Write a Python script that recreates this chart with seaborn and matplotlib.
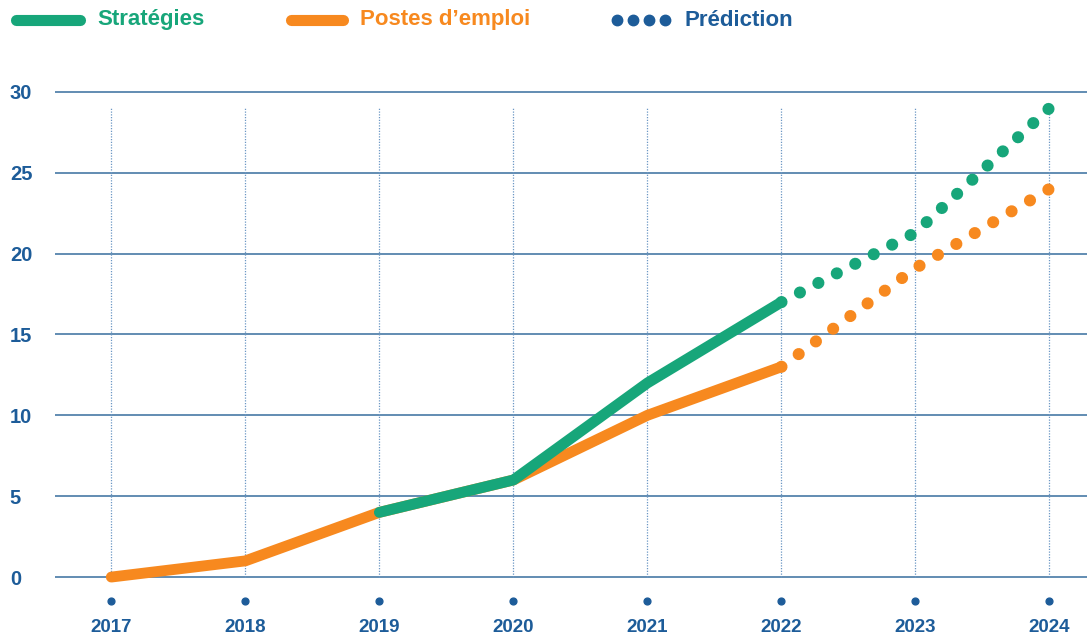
import matplotlib
matplotlib.use("Agg")
import matplotlib.pyplot as plt
import seaborn as sns
import pandas as pd
from matplotlib.lines import Line2D

sns.set_theme(style="white")
plt.rcParams['font.family'] = ['Liberation Sans', 'DejaVu Sans']

years = [2017, 2018, 2019, 2020, 2021, 2022, 2023, 2024]
strat_years = [2019, 2020, 2021, 2022]
strat_vals = [4, 6, 12, 17]
strat_pred_years = [2022, 2023, 2024]
strat_pred_vals = [17, 21.3, 29]
postes_years = [2017, 2018, 2019, 2020, 2021, 2022]
postes_vals = [0, 1, 4, 6, 10, 13]
postes_pred_years = [2022, 2023, 2024]
postes_pred_vals = [13, 19.1, 24.0]
yticks = [0, 5, 10, 15, 20, 25, 30]
legend_labels = ["Stratégies", "Postes d’emploi", "Prédiction"]

GREEN = "#17a67a"
ORANGE = "#f7891f"
BLUE = "#1d5c99"
GRID = "#5583ad"

fig = plt.figure(figsize=(10.87, 6.36), dpi=100)
ax = fig.add_axes([55/1087, 46/636, 1 - 55/1087, 503/636])

for y in yticks:
    ax.axhline(y, color=GRID, lw=1.3, zorder=1)
for x in years:
    ax.plot([x, x], [0, 29], color="#6b97c4", lw=0.9, ls=(0, (1, 1.2)), zorder=1)

sns.lineplot(x=postes_pred_years, y=postes_pred_vals, ax=ax, color=ORANGE, lw=8.7,
             linestyle=(0, (0.01, 1.76)), dash_capstyle="round", zorder=3, clip_on=False)
sns.lineplot(x=strat_pred_years, y=strat_pred_vals, ax=ax, color=GREEN, lw=8.7,
             linestyle=(0, (0.01, 1.71)), dash_capstyle="round", zorder=3, clip_on=False)
sns.lineplot(x=postes_years, y=postes_vals, ax=ax, color=ORANGE, lw=7.8,
             solid_capstyle="round", solid_joinstyle="round", zorder=4, clip_on=False)
sns.lineplot(x=strat_years, y=strat_vals, ax=ax, color=GREEN, lw=7.8,
             solid_capstyle="round", solid_joinstyle="round", zorder=5, clip_on=False)

ax.scatter(years, [-1.5] * len(years), s=24, color=BLUE, clip_on=False, zorder=5)

ax.set_xlim(2016.58, 2024.28)
ax.set_ylim(-0.8, 30.3)
ax.set_xticks(years)
ax.set_xticklabels([str(y) for y in years], fontsize=13.5, fontweight="bold", color=BLUE)
ax.set_yticks(yticks)
ax.set_yticklabels([str(y) for y in yticks], fontsize=14.5, fontweight="bold", color=BLUE)
ax.tick_params(axis="x", length=0, pad=21)
ax.tick_params(axis="y", length=0, pad=32.5)
for lab in ax.get_yticklabels():
    lab.set_horizontalalignment("left")
for s in ax.spines.values():
    s.set_visible(False)
ax.set_xlabel("")
ax.set_ylabel("")

# legend
ly = 1 - 20/636
fig.add_artist(Line2D([16/1087, 80/1087], [ly, ly], color=GREEN, lw=8,
                      solid_capstyle="round", transform=fig.transFigure))
fig.text(97/1087, ly, legend_labels[0], color=GREEN, fontsize=16, fontweight="bold", va="center")
fig.add_artist(Line2D([291/1087, 343/1087], [ly, ly], color=ORANGE, lw=8,
                      solid_capstyle="round", transform=fig.transFigure))
fig.text(360/1087, ly, legend_labels[1], color=ORANGE, fontsize=16, fontweight="bold", va="center")
fig.add_artist(Line2D([617/1087, 633/1087, 649/1087, 665/1087], [ly] * 4, color=BLUE, lw=0,
                      marker="o", markersize=7.5, transform=fig.transFigure))
fig.text(685/1087, ly, legend_labels[2], color=BLUE, fontsize=16, fontweight="bold", va="center")

fig.savefig("out.png", dpi=100, facecolor="white")
